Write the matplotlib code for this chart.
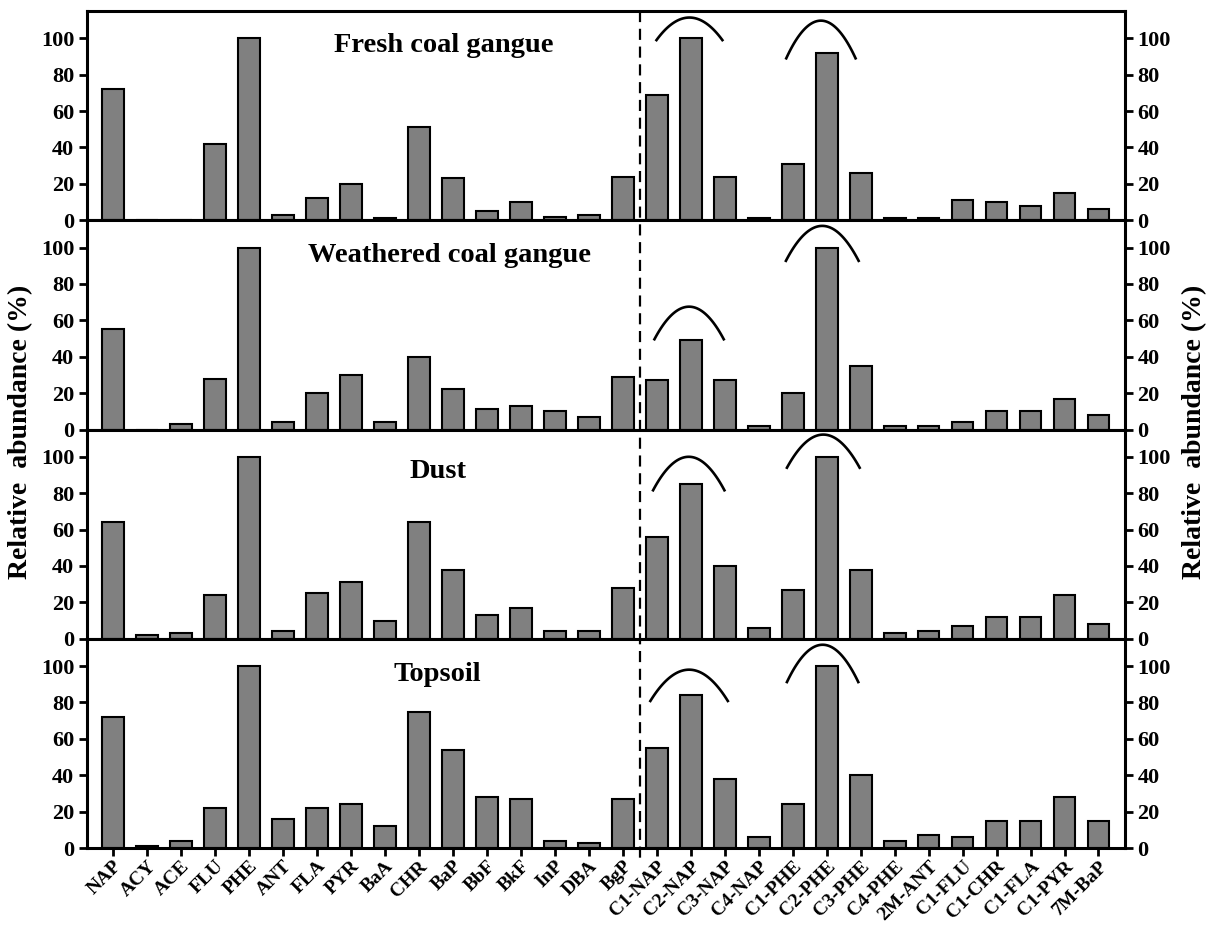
import numpy as np
import matplotlib
matplotlib.use("Agg")
import matplotlib.pyplot as plt
from matplotlib.lines import Line2D

plt.rcParams['font.family'] = ['Liberation Serif', 'DejaVu Serif']
plt.rcParams['font.weight'] = 'bold'

categories = ["NAP", "ACY", "ACE", "FLU", "PHE", "ANT", "FLA", "PYR", "BaA", "CHR",
              "BaP", "BbF", "BkF", "InP", "DBA", "BgP",
              "C1-NAP", "C2-NAP", "C3-NAP", "C4-NAP", "C1-PHE", "C2-PHE", "C3-PHE",
              "C4-PHE", "2M-ANT", "C1-FLU", "C1-CHR", "C1-FLA", "C1-PYR", "7M-BaP"]

panel_titles = ["Fresh coal gangue", "Weathered coal gangue", "Dust", "Topsoil"]

fresh_gangue = [72, 0, 0, 42, 100, 3, 12, 20, 1, 51, 23, 5, 10, 2, 3, 24,
                69, 100, 24, 1, 31, 92, 26, 1, 1, 11, 10, 8, 15, 6]
weathered_gangue = [55, 0, 3, 28, 100, 4, 20, 30, 4, 40, 22, 11, 13, 10, 7, 29,
                    27, 49, 27, 2, 20, 100, 35, 2, 2, 4, 10, 10, 17, 8]
dust = [64, 2, 3, 24, 100, 4, 25, 31, 10, 64, 38, 13, 17, 4, 4, 28,
        56, 85, 40, 6, 27, 100, 38, 3, 4, 7, 12, 12, 24, 8]
topsoil = [72, 1, 4, 22, 100, 16, 22, 24, 12, 75, 54, 28, 27, 4, 3, 27,
           55, 84, 38, 6, 24, 100, 40, 4, 7, 6, 15, 15, 28, 15]

series = [fresh_gangue, weathered_gangue, dust, topsoil]

# arcs (annotation brackets): center index, half width, base value, peak value
nap_arcs = [(16.96, 0.97, 99, 111.4), (16.95, 1.02, 49.6, 67.5),
            (16.94, 1.05, 81.6, 100.0), (16.95, 1.14, 80.8, 98.0)]
phe_arcs = [(20.83, 1.02, 89, 109.7), (20.87, 1.07, 92.7, 111.9),
            (20.90, 1.07, 94.0, 112.2), (20.88, 1.05, 91.2, 111.7)]

title_x = [9.73, 9.9, 9.55, 9.55]
title_y = [0.803, 0.80, 0.767, 0.796]

yticks = [0, 20, 40, 60, 80, 100]

W, H = 1213, 926
fig = plt.figure(figsize=(W / 100, H / 100), dpi=100)

left = 86.7 / W
right = 1125 / W
top_px = 11
bot_px = 848
ph = (bot_px - top_px) / 4

x = np.arange(len(categories))
axes = []
for i in range(4):
    y0 = 1 - (top_px + (i + 1) * ph) / H
    ax = fig.add_axes([left, y0, right - left, ph / H])
    axes.append(ax)
    ax.bar(x, series[i], width=0.64, color="#808080", edgecolor="black", linewidth=1.5, zorder=2)
    ax.set_xlim(-0.78, len(categories) - 1 + 0.78)
    ax.set_ylim(0, 115)
    ax.set_yticks(yticks)
    ax.tick_params(axis='y', which='both', left=True, right=True, labelleft=True, labelright=True,
                   direction='out', length=6, width=2, labelsize=16, pad=3)
    for lab in ax.get_yticklabels():
        lab.set_fontweight('bold')
    for s in ax.spines.values():
        s.set_linewidth(2.2)
    ax.text(title_x[i], title_y[i], panel_titles[i], transform=ax.get_xaxis_transform(),
            ha='center', va='baseline', fontsize=20.5, fontweight='bold')
    for (xc, hw, base, peak) in (nap_arcs[i], phe_arcs[i]):
        xs = np.linspace(xc - hw, xc + hw, 80)
        ys = base + (peak - base) * (1 - ((xs - xc) / hw) ** 2)
        ax.plot(xs, ys, color='black', lw=1.9, zorder=3)
    if i < 3:
        ax.tick_params(axis='x', bottom=False, labelbottom=False)
    else:
        ax.set_xticks(x)
        ax.set_xticklabels(categories, rotation=45, ha='right', va='top',
                           rotation_mode='anchor', fontsize=14, fontweight='bold')
        ax.tick_params(axis='x', direction='out', length=6, width=2, pad=1)

# dashed divider across all panels
x_div = axes[0].transData.transform((15.5, 0))[0] / W
fig.add_artist(Line2D([x_div, x_div], [1 - top_px / H, 1 - (bot_px + 12) / H],
                      transform=fig.transFigure, color='black', lw=1.6,
                      linestyle=(0, (5, 3))))

fig.text(0.017, 1 - 432 / H, "Relative  abundance (%)", rotation=90, ha='center', va='center',
         fontsize=20, fontweight='bold')
fig.text(0.985, 1 - 432 / H, "Relative  abundance (%)", rotation=90, ha='center', va='center',
         fontsize=20, fontweight='bold')

fig.savefig("out.png", dpi=100)
